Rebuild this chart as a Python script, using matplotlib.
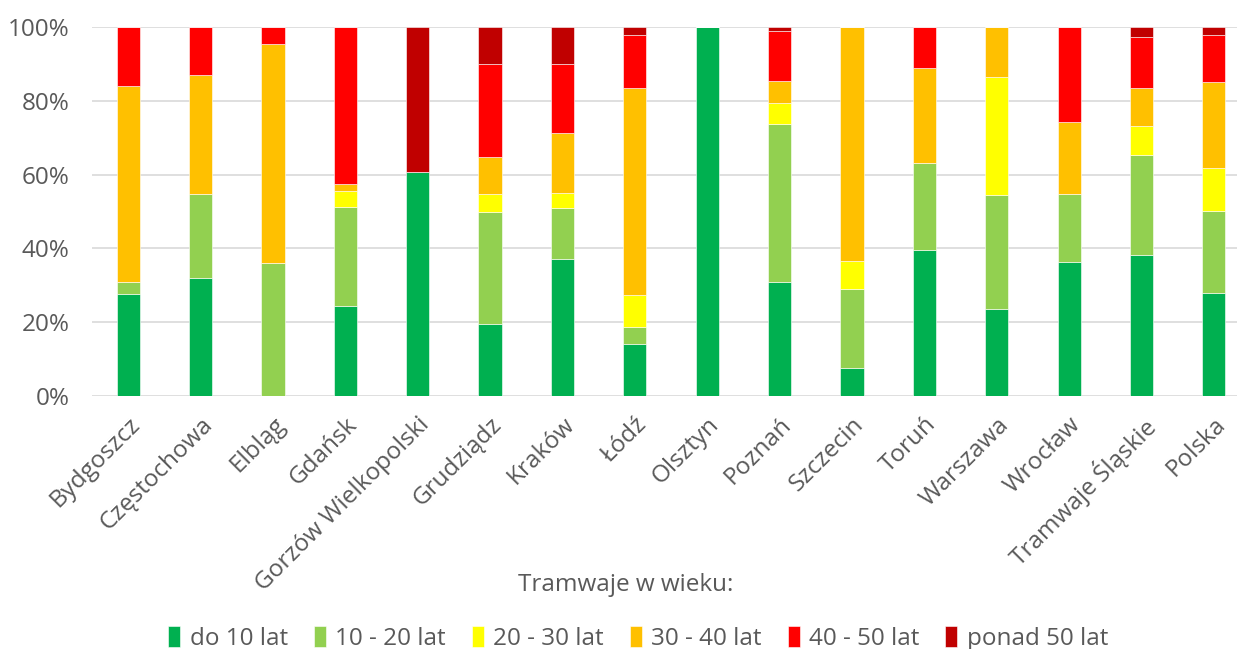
import numpy as np
import matplotlib.pyplot as plt

miasta = ["Bydgoszcz", "Częstochowa", "Elbląg", "Gdańsk", "Gorzów Wielkopolski",
          "Grudziądz", "Kraków", "Łódź", "Olsztyn", "Poznań", "Szczecin", "Toruń",
          "Warszawa", "Wrocław", "Tramwaje Śląskie", "Polska"]

grupy = ["do 10 lat", "10 - 20 lat", "20 - 30 lat", "30 - 40 lat", "40 - 50 lat", "ponad 50 lat"]

do_10 = [27.7, 32.1, 0.0, 24.5, 60.7, 19.6, 37.2, 14.1, 100.0, 31.0, 7.6, 39.5, 23.7, 36.4, 38.3, 27.8]
od_10_20 = [3.3, 22.6, 36.1, 26.7, 0.0, 30.2, 13.8, 4.7, 0.0, 42.6, 21.4, 23.7, 30.7, 18.3, 26.9, 22.3]
od_20_30 = [0.0, 0.0, 0.0, 4.4, 0.0, 5.0, 4.0, 8.6, 0.0, 5.9, 7.5, 0.0, 32.1, 0.0, 8.1, 11.7]
od_30_40 = [52.9, 32.4, 59.3, 1.9, 0.0, 10.1, 16.3, 56.1, 0.0, 6.0, 63.5, 25.6, 13.5, 19.5, 10.1, 23.3]
od_40_50 = [16.1, 12.9, 4.6, 42.5, 0.0, 25.0, 18.8, 14.3, 0.0, 13.4, 0.0, 11.2, 0.0, 25.8, 13.8, 12.7]
ponad_50 = [0.0, 0.0, 0.0, 0.0, 39.3, 10.1, 9.9, 2.2, 0.0, 1.1, 0.0, 0.0, 0.0, 0.0, 2.8, 2.2]

kolory = ["#00B050", "#92D050", "#FFFF00", "#FFC000", "#FF0000", "#C00000"]

serie = [do_10, od_10_20, od_20_30, od_30_40, od_40_50, ponad_50]

plt.rcParams['font.family'] = ['Open Sans', 'DejaVu Sans']
szary = "#595959"
fs = 17.5

fig = plt.figure(figsize=(12.37, 6.49), dpi=100)
ax = fig.add_axes([92 / 1237, (649 - 396) / 649, (1237 - 92) / 1237, (396 - 27) / 649])

x = np.arange(len(miasta))
dol = np.zeros(len(miasta))
for wart, kol, nazwa in zip(serie, kolory, grupy):
    wart = np.array(wart)
    ax.bar(x, wart, 0.32, bottom=dol, color=kol, label=nazwa,
           edgecolor="white", linewidth=0.4, zorder=3)
    dol += wart

ax.set_ylim(0, 100)
ax.set_xlim(-0.5, 15.32)
ax.set_yticks(np.arange(0, 101, 20))
ax.set_yticklabels([f"{v}%" for v in range(0, 101, 20)], fontsize=fs, color=szary)
ax.set_xticks(x)
ax.set_xticklabels(miasta, rotation=45, ha="right", rotation_mode="anchor",
                   fontsize=fs, color=szary)
ax.tick_params(axis="y", length=0, pad=16)
ax.tick_params(axis="x", length=0, pad=12)
ax.yaxis.grid(True, color="#d9d9d9", linewidth=1.2, zorder=0)
for s in ax.spines.values():
    s.set_visible(False)

fig.text(0.506, 0.099, "Tramwaje w wieku:", ha="center", va="center",
         fontsize=fs, color=szary)
fig.legend(loc="center", bbox_to_anchor=(0.516, 0.016), ncol=6, frameon=False,
           fontsize=fs, labelcolor=szary, handlelength=0.5, handleheight=0.9,
           handletextpad=0.4, columnspacing=1.05)

fig.savefig("out.png", dpi=100)
